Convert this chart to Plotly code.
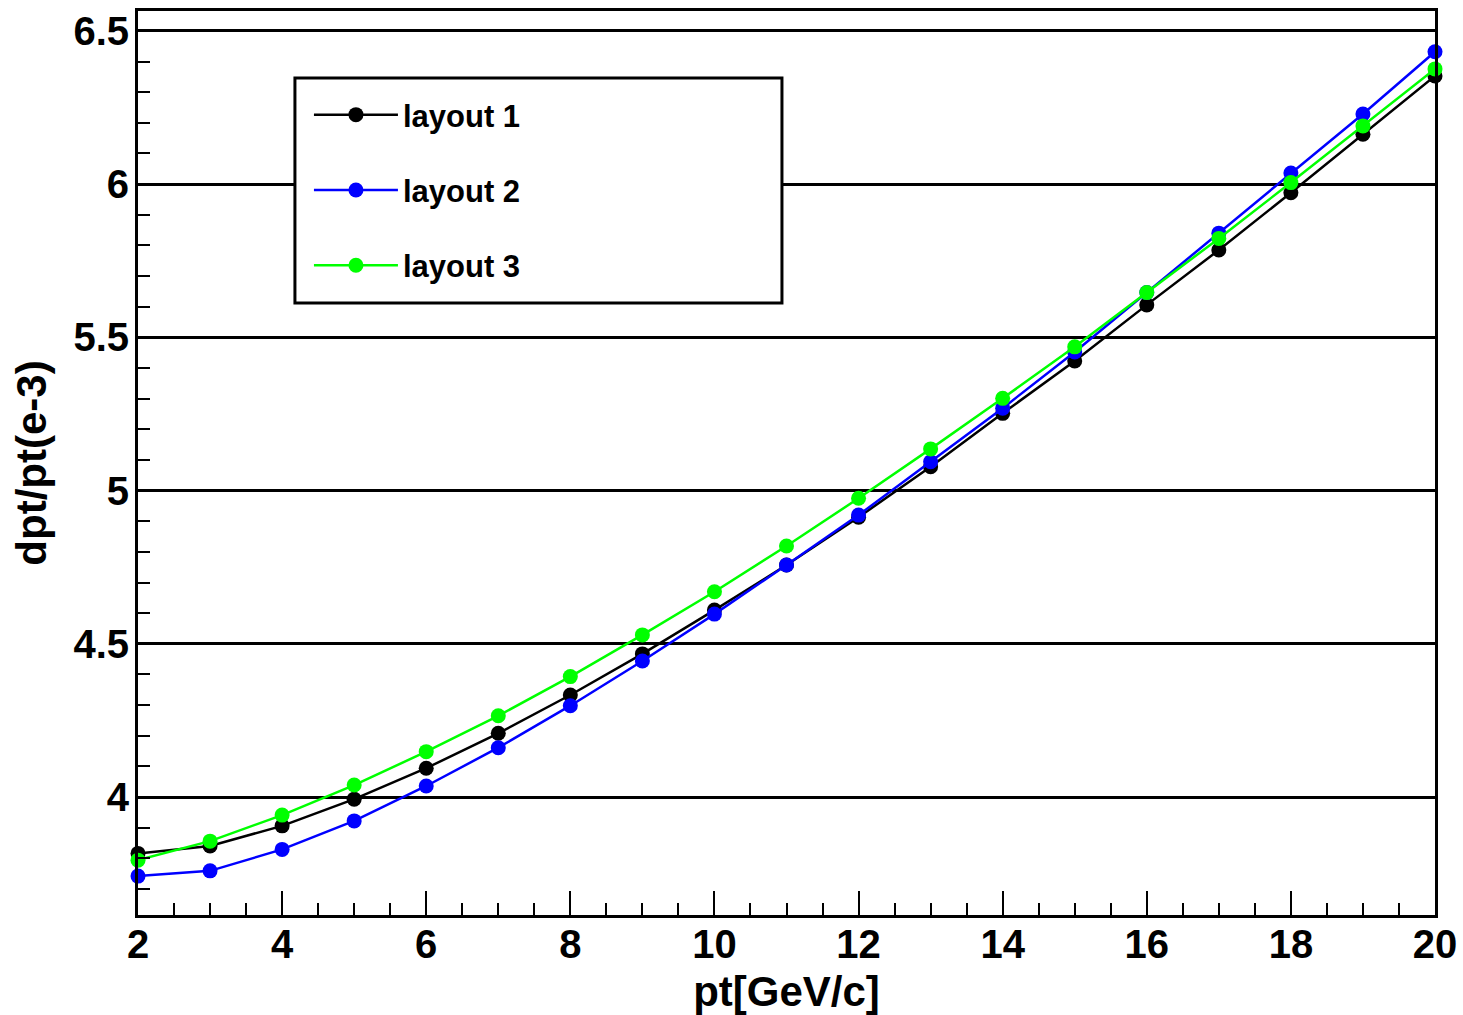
import plotly.graph_objects as go

# transverse momentum points [GeV/c]
pt = [2, 3, 4, 5, 6, 7, 8, 9, 10, 11, 12, 13, 14, 15, 16, 17, 18, 19, 20]

# relative momentum resolution dpt/pt in units of 1e-3
layout1 = [3.816, 3.840, 3.906, 3.993, 4.094, 4.208, 4.333, 4.467, 4.610, 4.757,
           4.913, 5.078, 5.252, 5.423, 5.606, 5.785, 5.972, 6.163, 6.353]
layout2 = [3.742, 3.759, 3.829, 3.922, 4.036, 4.161, 4.298, 4.444, 4.597, 4.757,
           4.920, 5.094, 5.269, 5.452, 5.646, 5.840, 6.036, 6.229, 6.432]
layout3 = [3.794, 3.856, 3.941, 4.039, 4.148, 4.265, 4.393, 4.529, 4.670, 4.819,
           4.975, 5.136, 5.301, 5.469, 5.646, 5.823, 6.005, 6.190, 6.376]

series_names = ["layout 1", "layout 2", "layout 3"]
series_values = [layout1, layout2, layout3]
series_colors = ["#000000", "#0000ff", "#00ff00"]

FONT = "Liberation Sans, Arial, Helvetica, sans-serif"

fig = go.Figure()
for name, vals, col in zip(series_names, series_values, series_colors):
    fig.add_trace(go.Scatter(
        x=pt, y=vals, name=name, mode="lines+markers",
        line=dict(color=col, width=2.5),
        marker=dict(color=col, size=15),
        cliponaxis=False,
        legendgroup=name,
    ))

axis_common = dict(
    showline=True, linecolor="black", linewidth=3, mirror=True,
    ticks="inside", tickcolor="black", tickwidth=2,
    tickfont=dict(family=FONT, size=40, color="black", weight="bold"),
    zeroline=False,
)

fig.update_xaxes(
    **axis_common,
    range=[2, 20], tick0=2, dtick=2, ticklen=24,
    showgrid=False,
    ticklabelstandoff=-8,
    minor=dict(ticks="inside", dtick=0.5, tick0=2, ticklen=12,
               tickwidth=2, tickcolor="black", showgrid=False),
    title=dict(text="pt[GeV/c]", standoff=18,
               font=dict(family=FONT, size=42, color="black", weight="bold")),
)

fig.update_yaxes(
    **axis_common,
    range=[3.615, 6.565], tick0=4, dtick=0.5, ticklen=24,
    showgrid=True, gridcolor="black", gridwidth=3,
    ticklabelstandoff=-2,
    minor=dict(ticks="inside", dtick=0.1, tick0=4, ticklen=12,
               tickwidth=2, tickcolor="black", showgrid=False),
    title=dict(text="dpt/pt(e-3)", standoff=14,
               font=dict(family=FONT, size=42, color="black", weight="bold")),
)

# white framed box behind the legend entries
fig.add_shape(
    type="rect", xref="paper", yref="paper",
    x0=0.1210, x1=0.4965, y0=0.6770, y1=0.9259,
    fillcolor="white", line=dict(color="black", width=3), layer="above",
)

fig.update_layout(
    width=1463, height=1015,
    margin=dict(l=138, r=28, t=11, b=100, autoexpand=False),
    paper_bgcolor="white", plot_bgcolor="white",
    showlegend=True,
    legend=dict(
        x=0.1318, y=0.9148, xanchor="left", yanchor="top",
        bgcolor="rgba(0,0,0,0)", borderwidth=0,
        font=dict(family=FONT, size=31, color="black", weight="bold"),
        itemwidth=84,
        tracegroupgap=32,
        traceorder="grouped",
    ),
)

fig.write_html("out.html")
